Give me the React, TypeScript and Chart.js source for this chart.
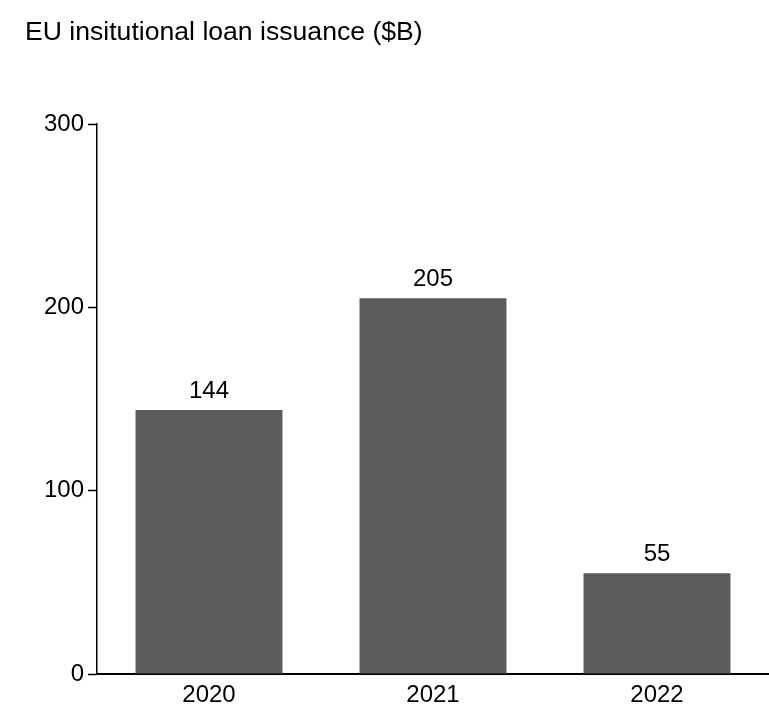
import React, { useEffect, useRef } from "react";
import { Chart, registerables } from "chart.js";

Chart.register(...registerables);

const categories = ["2020", "2021", "2022"];
const issuance = [144, 205, 55];
const yTicks = [0, 100, 200, 300];
const title = "EU insitutional loan issuance ($B)";

const FONT = "'Liberation Sans', Arial, sans-serif";

export default function App() {
  const ref = useRef<HTMLCanvasElement | null>(null);

  useEffect(() => {
    if (!ref.current) return;
    const titlePlugin = {
      id: "titleText",
      afterDraw(chart: any) {
        const ctx = chart.ctx;
        ctx.save();
        ctx.font = `26.6px ${FONT}`;
        ctx.fillStyle = "#000";
        ctx.textAlign = "left";
        ctx.textBaseline = "alphabetic";
        ctx.fillText(title, 25, 40);
        ctx.restore();
      },
    };
    const labelPlugin = {
      id: "barLabels",
      afterDatasetsDraw(chart: any) {
        const ctx = chart.ctx;
        const meta = chart.getDatasetMeta(0);
        ctx.save();
        ctx.font = `24px ${FONT}`;
        ctx.fillStyle = "#000";
        ctx.textAlign = "center";
        ctx.textBaseline = "alphabetic";
        meta.data.forEach((bar: any, i: number) => {
          ctx.fillText(String(issuance[i]), bar.x, bar.y - 12);
        });
        ctx.restore();
      },
    };
    const chart = new Chart(ref.current, {
      type: "bar",
      data: {
        labels: categories,
        datasets: [
          {
            data: issuance,
            backgroundColor: "#5b5b5b",
            borderWidth: 0,
            barPercentage: 0.656,
            categoryPercentage: 1,
          },
        ],
      },
      options: {
        animation: false,
        responsive: false,
        layout: { padding: { top: 124, right: 0, left: 0, bottom: 0 } },
        plugins: {
          legend: { display: false },
          tooltip: { enabled: false },
          title: { display: false },
        },
        scales: {
          x: {
            grid: { display: false, drawTicks: false },
            border: { display: true, color: "#000", width: 2 },
            ticks: { color: "#000", font: { family: FONT, size: 24 }, padding: 7 },
            afterFit(scale: any) {
              scale.height = 40;
            },
          },
          y: {
            min: 0,
            max: 300,
            afterBuildTicks(scale: any) {
              scale.ticks = yTicks.map((v) => ({ value: v }));
            },
            grid: {
              drawOnChartArea: false,
              drawTicks: true,
              tickLength: 9,
              tickColor: "#000",
              tickWidth: 1.5,
            },
            border: { display: true, color: "#000", width: 1.5 },
            ticks: { color: "#000", font: { family: FONT, size: 24 }, padding: 4 },
            afterFit(scale: any) {
              scale.width = 97;
            },
          },
        },
      },
      plugins: [titlePlugin, labelPlugin],
    });
    return () => chart.destroy();
  }, []);

  return (
    <div style={{ position: "fixed", left: 0, top: 0, width: 769, height: 714, background: "#fff" }}>
      <canvas ref={ref} width={769} height={714} />
    </div>
  );
}
